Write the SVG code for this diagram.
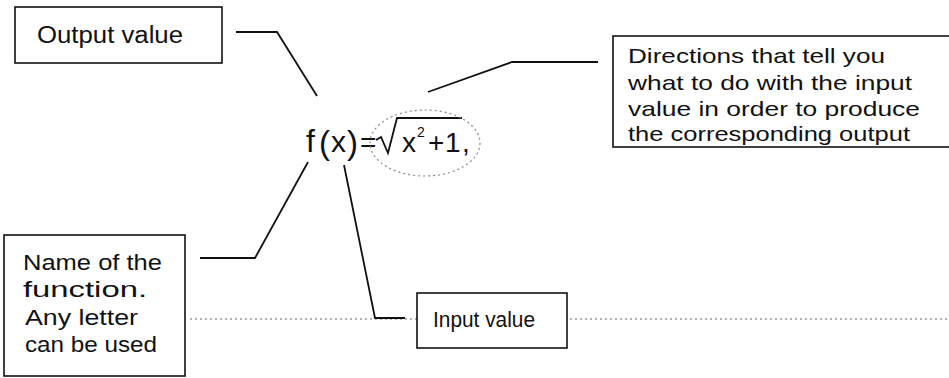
<svg xmlns="http://www.w3.org/2000/svg" width="949" height="378" viewBox="0 0 949 378">
<style>
.box{fill:#fff;stroke:#111;stroke-width:1.6}
.lbl{font-family:"Liberation Sans",Arial,sans-serif;fill:#111}
.conn{fill:none;stroke:#111;stroke-width:1.8;stroke-linejoin:miter}
.dot{fill:none;stroke:#666;stroke-width:1.2;stroke-dasharray:2 3}
.math{font-family:"Liberation Sans",Arial,sans-serif;fill:#111}
</style>
<rect width="949" height="378" fill="#fff"/>
<g id="guide">
<line class="dot" x1="190" y1="319" x2="949" y2="319"/>
</g>
<g id="connectors">
<polyline class="conn" points="236,32 277,32 317,96"/>
<polyline class="conn" points="428,92 512,62 598,62"/>
<polyline class="conn" points="200,258 255,258 308,162"/>
<polyline class="conn" points="344,165 375,318 405,318"/>
</g>
<g id="formula">
<text class="math" x="306" y="152" font-size="32">f</text>
<text class="math" x="319" y="154" font-size="33">(</text>
<text class="math" x="331" y="152" font-size="30">x</text>
<text class="math" x="347" y="154" font-size="33">)</text>
<text class="math" x="360" y="152" font-size="28">=</text>
<path d="M376,140 L381,137 L388,153 L397,118 L462,118" fill="none" stroke="#111" stroke-width="1.8"/>
<text class="math" x="402" y="152" font-size="28">x</text>
<text class="math" x="417" y="137" font-size="14">2</text>
<text class="math" x="428" y="152" font-size="28">+</text>
<text class="math" x="445" y="152" font-size="28">1</text>
<text class="math" x="462" y="152" font-size="28">,</text>
<ellipse cx="425" cy="143" rx="55" ry="33" fill="none" stroke="#888" stroke-width="1.2" stroke-dasharray="2 3"/>
</g>
<g id="output-value">
<rect class="box" x="15" y="7" width="207" height="56"/>
<text class="lbl" x="37" y="43" font-size="23" textLength="146" lengthAdjust="spacingAndGlyphs">Output value</text>
</g>
<g id="directions">
<rect class="box" x="613" y="36" width="345" height="111"/>
<text class="lbl" x="628" y="63" font-size="21" textLength="257" lengthAdjust="spacingAndGlyphs">Directions that tell you</text>
<text class="lbl" x="628" y="90" font-size="21" textLength="284" lengthAdjust="spacingAndGlyphs">what to do with the input</text>
<text class="lbl" x="628" y="116" font-size="21" textLength="292" lengthAdjust="spacingAndGlyphs">value in order to produce</text>
<text class="lbl" x="628" y="141" font-size="21" textLength="282" lengthAdjust="spacingAndGlyphs">the corresponding output</text>
</g>
<g id="function-name">
<rect class="box" x="4" y="235" width="181" height="141"/>
<text class="lbl" x="23" y="270" font-size="22" textLength="139" lengthAdjust="spacingAndGlyphs">Name of the</text>
<text class="lbl" x="23" y="297" font-size="22" textLength="124" lengthAdjust="spacingAndGlyphs">function.</text>
<text class="lbl" x="25" y="325" font-size="22" textLength="113" lengthAdjust="spacingAndGlyphs">Any letter</text>
<text class="lbl" x="25" y="352" font-size="22" textLength="132" lengthAdjust="spacingAndGlyphs">can be used</text>
</g>
<g id="input-value">
<rect class="box" x="417" y="293" width="150" height="55"/>
<text class="lbl" x="433" y="327" font-size="22" textLength="102" lengthAdjust="spacingAndGlyphs">Input value</text>
</g>
</svg>
